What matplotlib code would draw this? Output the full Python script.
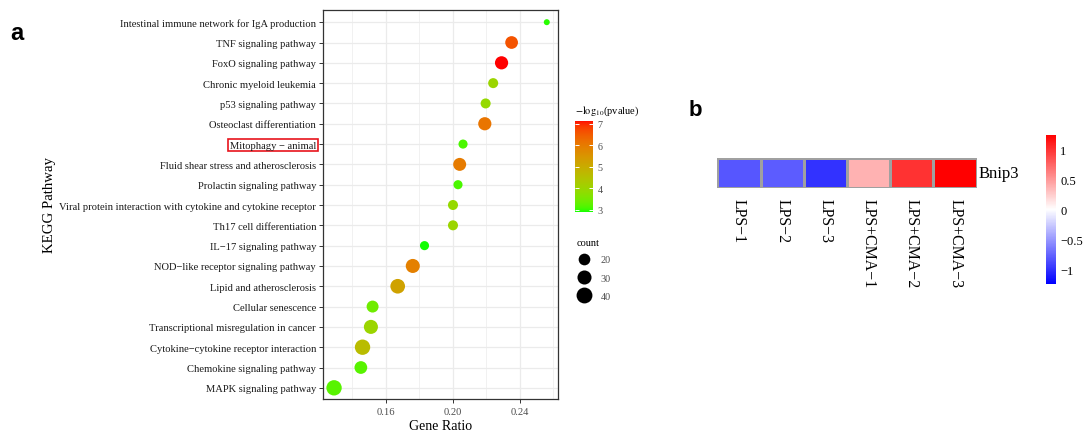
import numpy as np
import matplotlib
matplotlib.use("Agg")
import matplotlib.pyplot as plt
from matplotlib.colors import LinearSegmentedColormap, Normalize, ListedColormap
from matplotlib.lines import Line2D

plt.rcParams['font.family'] = ['Liberation Serif', 'DejaVu Serif']
plt.rcParams['mathtext.fontset'] = 'stix'

# ---- data (panel a), listed top to bottom
pathways = ["Intestinal immune network for IgA production", "TNF signaling pathway",
            "FoxO signaling pathway", "Chronic myeloid leukemia", "p53 signaling pathway",
            "Osteoclast differentiation", "Mitophagy \u2212 animal",
            "Fluid shear stress and atherosclerosis", "Prolactin signaling pathway",
            "Viral protein interaction with cytokine and cytokine receptor",
            "Th17 cell differentiation", "IL\u221217 signaling pathway",
            "NOD\u2212like receptor signaling pathway", "Lipid and atherosclerosis",
            "Cellular senescence", "Transcriptional misregulation in cancer",
            "Cytokine\u2212cytokine receptor interaction", "Chemokine signaling pathway",
            "MAPK signaling pathway"]
gene_ratio = [0.256, 0.235, 0.229, 0.224, 0.2195, 0.219, 0.206, 0.204, 0.203, 0.200,
              0.200, 0.183, 0.176, 0.167, 0.152, 0.151, 0.146, 0.145, 0.129]
neg_log_p = [2.95, 6.6, 7.15, 4.0, 3.9, 6.1, 3.1, 6.0, 3.1, 3.9,
             4.0, 2.9, 5.9, 5.2, 3.4, 4.0, 4.6, 3.2, 3.2]
counts = [10, 24, 26, 15, 15, 26, 13, 25, 13, 15, 15, 13, 30, 33, 21, 30, 37, 24, 37]
count_breaks = [20, 30, 40]

# ---- data (panel b)
samples = ["LPS\u22121", "LPS\u22122", "LPS\u22123", "LPS+CMA\u22121", "LPS+CMA\u22122", "LPS+CMA\u22123"]
bnip3 = [-0.83, -0.80, -1.00, 0.38, 1.00, 1.25]


# green -> red gradient interpolated in Lab (like ggplot's scale_colour_gradient)
def srgb_to_lab(c):
    c = np.asarray(c, float)
    lin = np.where(c <= 0.04045, c / 12.92, ((c + 0.055) / 1.055) ** 2.4)
    M = np.array([[0.4124, 0.3576, 0.1805], [0.2126, 0.7152, 0.0722], [0.0193, 0.1192, 0.9505]])
    xyz = M @ lin / np.array([0.95047, 1.0, 1.08883])
    f = np.where(xyz > 0.008856, np.cbrt(xyz), 7.787 * xyz + 16 / 116)
    return np.array([116 * f[1] - 16, 500 * (f[0] - f[1]), 200 * (f[1] - f[2])])


def lab_to_srgb(lab):
    L, a, b = lab
    fy = (L + 16) / 116
    fx, fz = fy + a / 500, fy - b / 200
    f = np.array([fx, fy, fz])
    xyz = np.where(f ** 3 > 0.008856, f ** 3, (f - 16 / 116) / 7.787) * np.array([0.95047, 1.0, 1.08883])
    Minv = np.array([[3.2406, -1.5372, -0.4986], [-0.9689, 1.8758, 0.0415], [0.0557, -0.2040, 1.0570]])
    lin = np.clip(Minv @ xyz, 0, 1)
    return np.clip(np.where(lin <= 0.0031308, 12.92 * lin, 1.055 * lin ** (1 / 2.4) - 0.055), 0, 1)


g_lab, r_lab = srgb_to_lab([0, 1, 0]), srgb_to_lab([1, 0, 0])
gr_cmap = ListedColormap([lab_to_srgb(g_lab + t * (r_lab - g_lab)) for t in np.linspace(0, 1, 256)])
pnorm = Normalize(vmin=2.88, vmax=7.15)


def dot_size(c):
    d_px = 6 + 1.8 * np.sqrt(np.maximum(np.asarray(c, float) - 10, 0))
    return (d_px * 0.72) ** 2


fig = plt.figure(figsize=(10.84, 4.35), dpi=100)
W, H = 1084, 435


def box(x0, y0, x1, y1):
    return [x0 / W, 1 - y1 / H, (x1 - x0) / W, (y1 - y0) / H]


# ---------------- panel a: dot plot
ax = fig.add_axes(box(323, 11, 558, 400))
ypos = np.arange(len(pathways))[::-1]
ax.scatter(gene_ratio, ypos, s=dot_size(counts), c=neg_log_p, cmap=gr_cmap, norm=pnorm,
           edgecolors='none', zorder=3)
ax.set_xlim(0.1224, 0.2627)
ax.set_ylim(-0.55, 18.6)
ax.set_xticks([0.16, 0.20, 0.24])
ax.set_xticklabels(["0.16", "0.20", "0.24"])
ax.set_xticks([0.14, 0.18, 0.22, 0.26], minor=True)
ax.set_yticks(ypos)
ax.set_yticklabels(pathways, fontsize=7.6, color='#1a1a1a')
ax.grid(True, which='major', color='#ebebeb', lw=0.9, zorder=0)
ax.grid(True, which='minor', axis='x', color='#ebebeb', lw=0.5, zorder=0)
ax.tick_params(axis='x', which='minor', length=0)
ax.tick_params(axis='both', which='major', length=3, width=0.7, color='#333333', labelsize=7.6, pad=2)
ax.tick_params(axis='x', labelcolor='#4d4d4d', pad=3)
for sp in ax.spines.values():
    sp.set_color('#333333')
    sp.set_linewidth(0.9)
ax.set_xlabel("Gene Ratio", fontsize=10, labelpad=2)
ax.set_ylabel("KEGG Pathway", fontsize=10.7, labelpad=2)
# red box around the mitophagy label
for lab in ax.get_yticklabels():
    if lab.get_text().startswith("Mitophagy"):
        lab.set_bbox(dict(facecolor='none', edgecolor='#e8141c', lw=1.2, pad=1.2))

# colour legend
cax = fig.add_axes(box(575, 121.7, 593.3, 213.3))
cb = fig.colorbar(plt.cm.ScalarMappable(norm=pnorm, cmap=gr_cmap), cax=cax, ticks=[3, 4, 5, 6, 7])
cb.outline.set_visible(False)
cax.tick_params(direction='in', color='white', length=3, width=0.7, left=True, right=True,
                labelsize=7.3, labelcolor='#4d4d4d', pad=3)
fig.text(575 / W, 1 - 111.5 / H, r"$-\mathrm{log}_{10}$(pvalue)", fontsize=7.5, va='center', ha='left')

# size legend
handles = [Line2D([], [], ls='none', marker='o', color='black', markeredgewidth=0,
                  markersize=np.sqrt(dot_size(c))) for c in count_breaks]
leg = fig.legend(handles, [str(c) for c in count_breaks], title="count", loc='upper left',
                 bbox_to_anchor=(575 / W, 1 - 237 / H), frameon=False, fontsize=7.3,
                 title_fontsize=7.5, labelspacing=0.9, handletextpad=0.9, borderaxespad=0,
                 handlelength=1.4, borderpad=0.2)
leg._legend_box.align = "left"
leg._legend_box.sep = 6
for t in leg.get_texts():
    t.set_color('#4d4d4d')

fig.text(10 / W, 1 - 33 / H, "a", fontsize=17, fontweight='bold', family='Liberation Sans',
         va='center', ha='left')

# ---------------- panel b: heatmap
hm_cmap = LinearSegmentedColormap.from_list("bwr_ph", ["blue", "white", "red"])
hnorm = Normalize(vmin=-1.25, vmax=1.25)
hax = fig.add_axes(box(717.3, 159.3, 976.7, 188.7))
hax.pcolormesh(np.array([bnip3]), cmap=hm_cmap, norm=hnorm, edgecolors='#a0a0a0', linewidth=0.8)
hax.set_xlim(0, len(samples))
hax.set_ylim(0, 1)
hax.axis('off')
for i, s in enumerate(samples):
    hax.text(i + 0.5, -0.36, s, rotation=270, ha='center', va='top', fontsize=11.4)
hax.text(1.008, 0.5, "Bnip3", transform=hax.transAxes, ha='left', va='center', fontsize=12)

hcax = fig.add_axes(box(1045.7, 135.7, 1056, 285))
hcb = fig.colorbar(plt.cm.ScalarMappable(norm=hnorm, cmap=hm_cmap), cax=hcax, ticks=[-1, -0.5, 0, 0.5, 1])
hcb.outline.set_visible(False)
hcb.ax.set_yticklabels(["\u22121", "\u22120.5", "0", "0.5", "1"])
hcax.tick_params(length=0, labelsize=9, pad=3)

fig.text(689 / W, 1 - 110 / H, "b", fontsize=16, fontweight='bold', family='Liberation Sans',
         va='center', ha='left')

fig.savefig("out.png", dpi=100)
